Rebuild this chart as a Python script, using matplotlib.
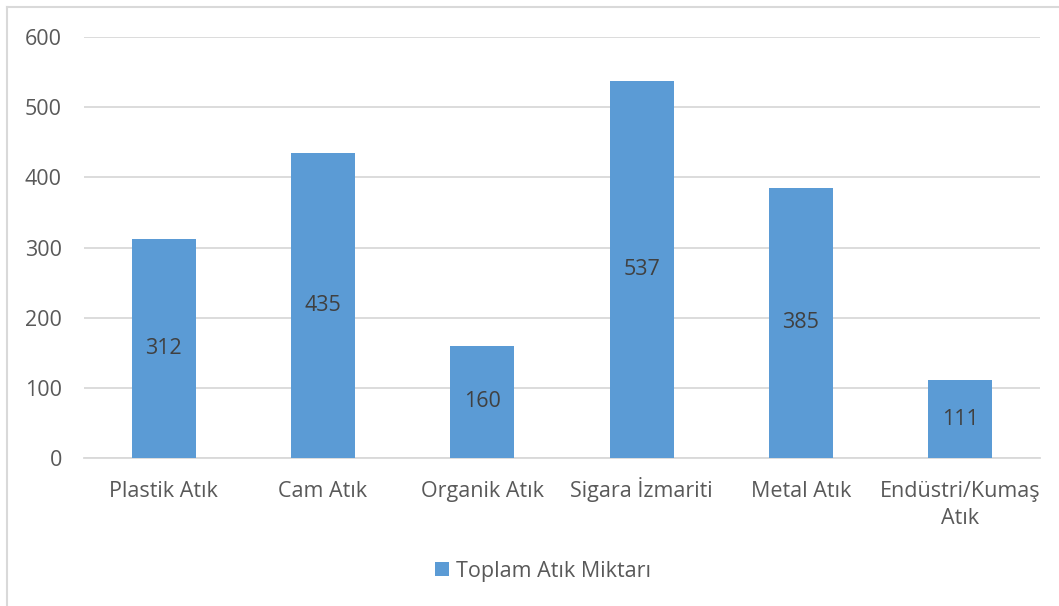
import matplotlib
matplotlib.use("Agg")
import matplotlib.pyplot as plt
import matplotlib.transforms as mtransforms
from matplotlib.lines import Line2D

# waste counts per category
categories = ["Plastik Atık", "Cam Atık", "Organik Atık", "Sigara İzmariti",
              "Metal Atık", "Endüstri/Kumaş\nAtık"]
totals = [312, 435, 160, 537, 385, 111]
series_name = "Toplam Atık Miktarı"
yticks = [0, 100, 200, 300, 400, 500, 600]

bar_color = "#5B9BD5"
grid_color = "#D9D9D9"
text_color = "#595959"
label_color = "#404040"
fsize = 15.5

plt.rcParams["font.family"] = ["Open Sans", "DejaVu Sans"]

fig = plt.figure(figsize=(10.59, 6.06), dpi=100)
ax = fig.add_axes([84 / 1059, 148 / 606, 956 / 1059, 421 / 606])

x = range(len(categories))
bars = ax.bar(x, totals, width=0.40, color=bar_color, zorder=3, label=series_name)
for rect, val in zip(bars, totals):
    ax.text(rect.get_x() + rect.get_width() / 2, val / 2, str(val),
            ha="center", va="center", fontsize=fsize, color=label_color, zorder=4)

ax.set_xlim(-0.5, len(categories) - 0.5)
ax.set_ylim(0, 600)
ax.set_yticks(yticks)
ax.set_xticks(list(x))
ax.set_xticklabels([])
ax.yaxis.grid(True, color=grid_color, linewidth=1.3, zorder=0)
ax.tick_params(axis="both", length=0, labelsize=fsize, labelcolor=text_color)
ax.tick_params(axis="y", pad=16)
for side in ["top", "right", "left"]:
    ax.spines[side].set_visible(False)
ax.spines["bottom"].set_color(grid_color)
ax.spines["bottom"].set_linewidth(1.3)

# category labels, one baseline per line so accented capitals don't shift them
base = mtransforms.blended_transform_factory(ax.transData, ax.transAxes)
for i, cat in enumerate(categories):
    for k, line in enumerate(cat.split("\n")):
        tr = mtransforms.offset_copy(base, fig=fig, x=0, y=-(39 + 27.5 * k), units="dots")
        ax.text(i, 0, line, transform=tr, ha="center", va="baseline",
                fontsize=fsize, color=text_color, clip_on=False)

# chart frame, only left and top edges fall inside the image
fig.add_artist(Line2D([7 / 1059, 7 / 1059], [0, 599 / 606], color=grid_color, linewidth=1.5))
fig.add_artist(Line2D([7 / 1059, 1], [599 / 606, 599 / 606], color=grid_color, linewidth=1.5))

fig.legend(handles=[bars], labels=[series_name], loc="center",
           bbox_to_anchor=(543 / 1059, 1 - 571 / 606), frameon=False,
           fontsize=fsize, labelcolor=text_color, handlelength=0.65, handleheight=0.65,
           handletextpad=0.3)

fig.savefig("out.png", dpi=100)
